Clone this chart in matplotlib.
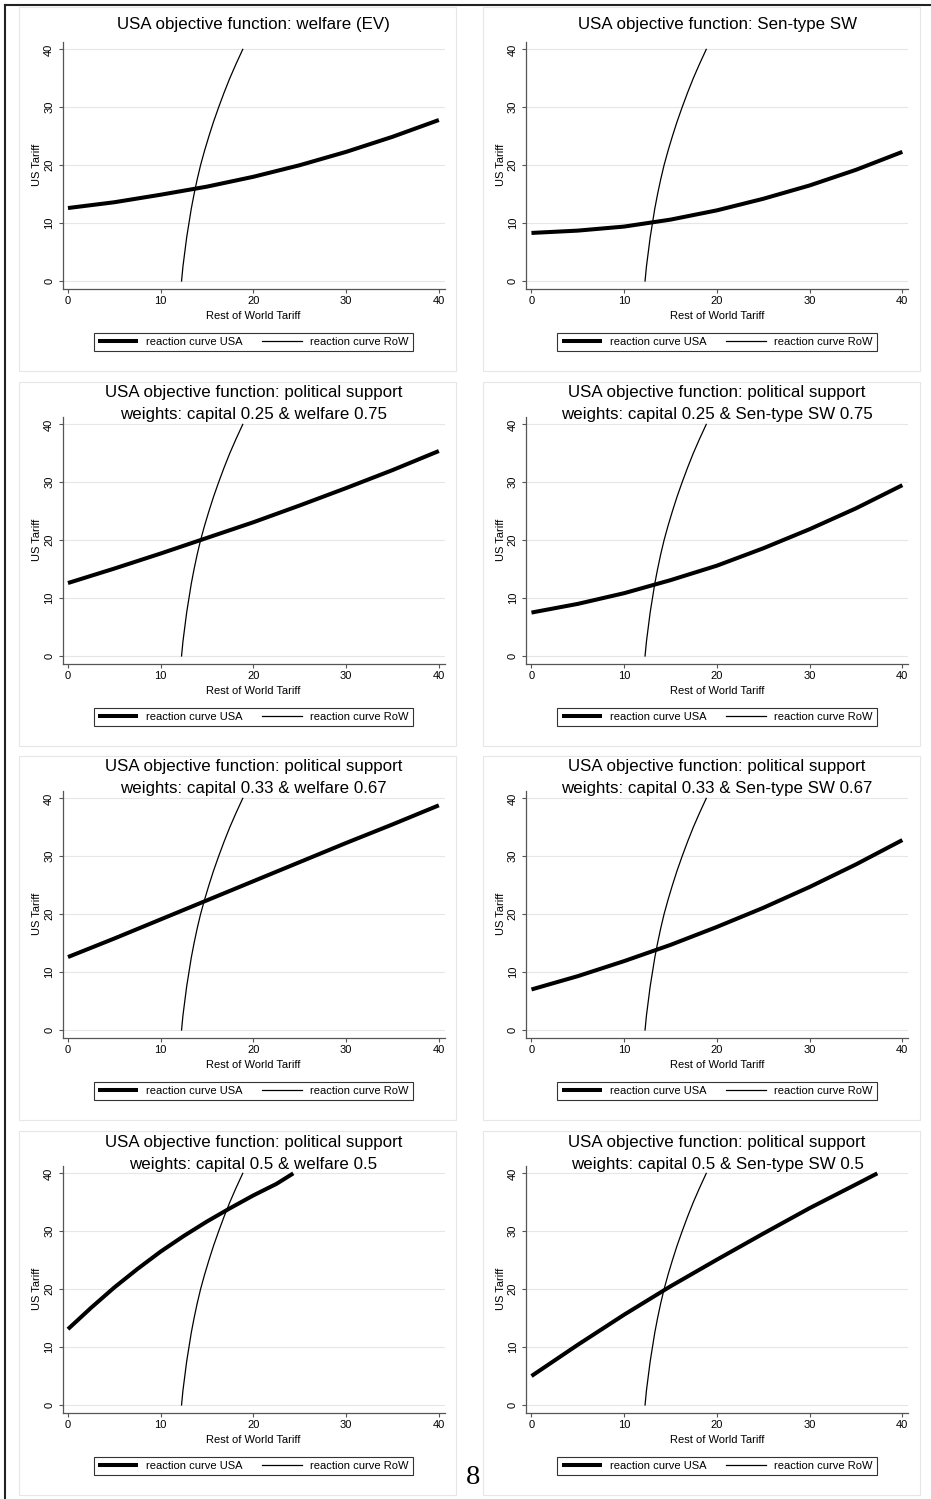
import numpy as np
import matplotlib
matplotlib.use('Agg')
import matplotlib.pyplot as plt
from matplotlib import font_manager
from matplotlib.lines import Line2D
from matplotlib.patches import Rectangle

# reaction curve of the Rest of World (same in every panel): US tariff -> RoW tariff
row_us = [0, 2.5, 5, 7.5, 10, 12.5, 15, 17.5, 20, 22.5, 25, 27.5, 30, 32.5, 35, 37.5, 40]
row_rw = [12.25, 12.4, 12.6, 12.8, 13.05, 13.3, 13.6, 13.93, 14.3, 14.73,
          15.2, 15.7, 16.25, 16.83, 17.45, 18.13, 18.85]

# reaction curves of the USA: RoW tariff -> US tariff
x_std = [0, 5, 10, 15, 20, 25, 30, 35, 40]
usa_ev = [12.6, 13.6, 14.9, 16.3, 18.0, 20.0, 22.3, 24.9, 27.8]
usa_sen = [8.3, 8.7, 9.4, 10.6, 12.2, 14.2, 16.5, 19.2, 22.3]
usa_ps25_ev = [12.6, 15.1, 17.7, 20.4, 23.1, 26.0, 29.0, 32.1, 35.4]
usa_ps25_sen = [7.5, 9.0, 10.85, 13.1, 15.6, 18.6, 21.9, 25.5, 29.5]
usa_ps33_ev = [12.6, 15.8, 19.1, 22.4, 25.7, 29.0, 32.3, 35.5, 38.8]
usa_ps33_sen = [7.0, 9.3, 11.9, 14.7, 17.8, 21.1, 24.7, 28.6, 32.8]
x_ps50_ev = [0, 2.5, 5, 7.5, 10, 12.5, 15, 17.5, 20, 22.5, 24.3]
usa_ps50_ev = [13.1, 16.8, 20.3, 23.5, 26.5, 29.2, 31.7, 34.0, 36.2, 38.2, 40.0]
x_ps50_sen = [0, 5, 10, 15, 20, 25, 30, 35, 37.3]
usa_ps50_sen = [5.0, 10.4, 15.6, 20.5, 25.1, 29.6, 34.0, 38.1, 40.0]

titles = [
    ["USA objective function: welfare (EV)"],
    ["USA objective function: Sen-type SW"],
    ["USA objective function: political support", "weights: capital 0.25 & welfare 0.75"],
    ["USA objective function: political support", "weights: capital 0.25 & Sen-type SW 0.75"],
    ["USA objective function: political support", "weights: capital 0.33 & welfare 0.67"],
    ["USA objective function: political support", "weights: capital 0.33 & Sen-type SW 0.67"],
    ["USA objective function: political support", "weights: capital 0.5 & welfare 0.5"],
    ["USA objective function: political support", "weights: capital 0.5 & Sen-type SW 0.5"],
]
usa_x = [x_std, x_std, x_std, x_std, x_std, x_std, x_ps50_ev, x_ps50_sen]
usa_y = [usa_ev, usa_sen, usa_ps25_ev, usa_ps25_sen,
         usa_ps33_ev, usa_ps33_sen, usa_ps50_ev, usa_ps50_sen]

ticks = [0, 10, 20, 30, 40]

W, H = 931, 1499

names = {f.name for f in font_manager.fontManager.ttflist}
if 'Liberation Sans Narrow' in names:
    FAM = 'Liberation Sans Narrow'
    TSZ, SSZ = 14.5, 9.5
else:
    FAM = 'Liberation Sans'
    TSZ, SSZ = 12.2, 8
plt.rcParams['font.family'] = FAM


def fx(x):
    return x / W


def fy(y):
    return 1 - y / H


fig = plt.figure(figsize=(W / 100, H / 100), dpi=100)

# page frame
fig.add_artist(Line2D([fx(5), fx(5)], [fy(5), 0], color='#222222', lw=1.5))
fig.add_artist(Line2D([fx(5), 1], [fy(5), fy(5)], color='#222222', lw=1.5))

row_off = [0, 375, 749, 1124]
col_off = [0, 463.5]

for i in range(8):
    r, c = i // 2, i % 2
    dx, dy = col_off[c], row_off[r]

    # panel box
    fig.add_artist(Rectangle((fx(19 + dx), fy(371 + dy)), 437 / W, 364 / H,
                             transform=fig.transFigure, facecolor='white',
                             edgecolor='#e6e6e6', lw=0.8, zorder=-5))

    left, top, aw, ah = 62.5 + dx, 41.5 + dy, 382, 247.2
    ax = fig.add_axes([fx(left), fy(top + ah), aw / W, ah / H])
    ax.set_facecolor('none')
    ax.set_xlim(-0.59, 40.61)
    ax.set_ylim(-1.33, 41.36)
    for s in ['top', 'right']:
        ax.spines[s].set_visible(False)
    for s in ['left', 'bottom']:
        ax.spines[s].set_color('#555555')
        ax.spines[s].set_linewidth(0.9)
    ax.set_xticks(ticks)
    ax.set_yticks(ticks)
    ax.tick_params(axis='both', direction='out', length=3, width=0.8,
                   color='#555555', labelsize=SSZ)
    ax.tick_params(axis='x', pad=2.5)
    ax.tick_params(axis='y', pad=3, labelrotation=90)
    for lab in ax.get_yticklabels():
        lab.set_va('center')
    ax.grid(axis='y', color='#e6e6e6', lw=0.8)
    ax.set_axisbelow(True)

    l1, = ax.plot(usa_x[i], usa_y[i], color='black', lw=2.9,
                  solid_capstyle='butt', solid_joinstyle='round',
                  label='reaction curve USA')
    l2, = ax.plot(row_rw, row_us, color='black', lw=0.9,
                  solid_joinstyle='round', label='reaction curve RoW')

    ax.set_xlabel('Rest of World Tariff', fontsize=SSZ, va='center')
    ax.xaxis.set_label_coords(0.5, -(316 - 288.7) / ah)
    ax.set_ylabel('US Tariff', fontsize=SSZ, va='center')
    ax.yaxis.set_label_coords(-(62.5 - 37) / aw, 0.5)

    leg = ax.legend(handles=[l1, l2], loc='center', ncol=2,
                    bbox_to_anchor=(fx(253.5 + dx), fy(342 + dy)),
                    bbox_transform=fig.transFigure, fontsize=SSZ,
                    frameon=True, fancybox=False, handlelength=3.6,
                    handletextpad=0.72, columnspacing=1.8, borderpad=0.4,
                    borderaxespad=0)
    leg.get_frame().set_edgecolor('black')
    leg.get_frame().set_linewidth(0.8)

    cx = 253.5 + dx
    if len(titles[i]) == 1:
        fig.text(fx(cx), fy(25 + dy), titles[i][0], ha='center', va='center',
                 fontsize=TSZ)
    else:
        fig.text(fx(cx), fy(18 + dy), titles[i][0], ha='center', va='center',
                 fontsize=TSZ)
        fig.text(fx(cx), fy(40 + dy), titles[i][1], ha='center', va='center',
                 fontsize=TSZ)

fig.text(fx(473), fy(1477), '8', ha='center', va='center', fontsize=20.5,
         family='Liberation Serif')

fig.savefig('out.png', dpi=100)
